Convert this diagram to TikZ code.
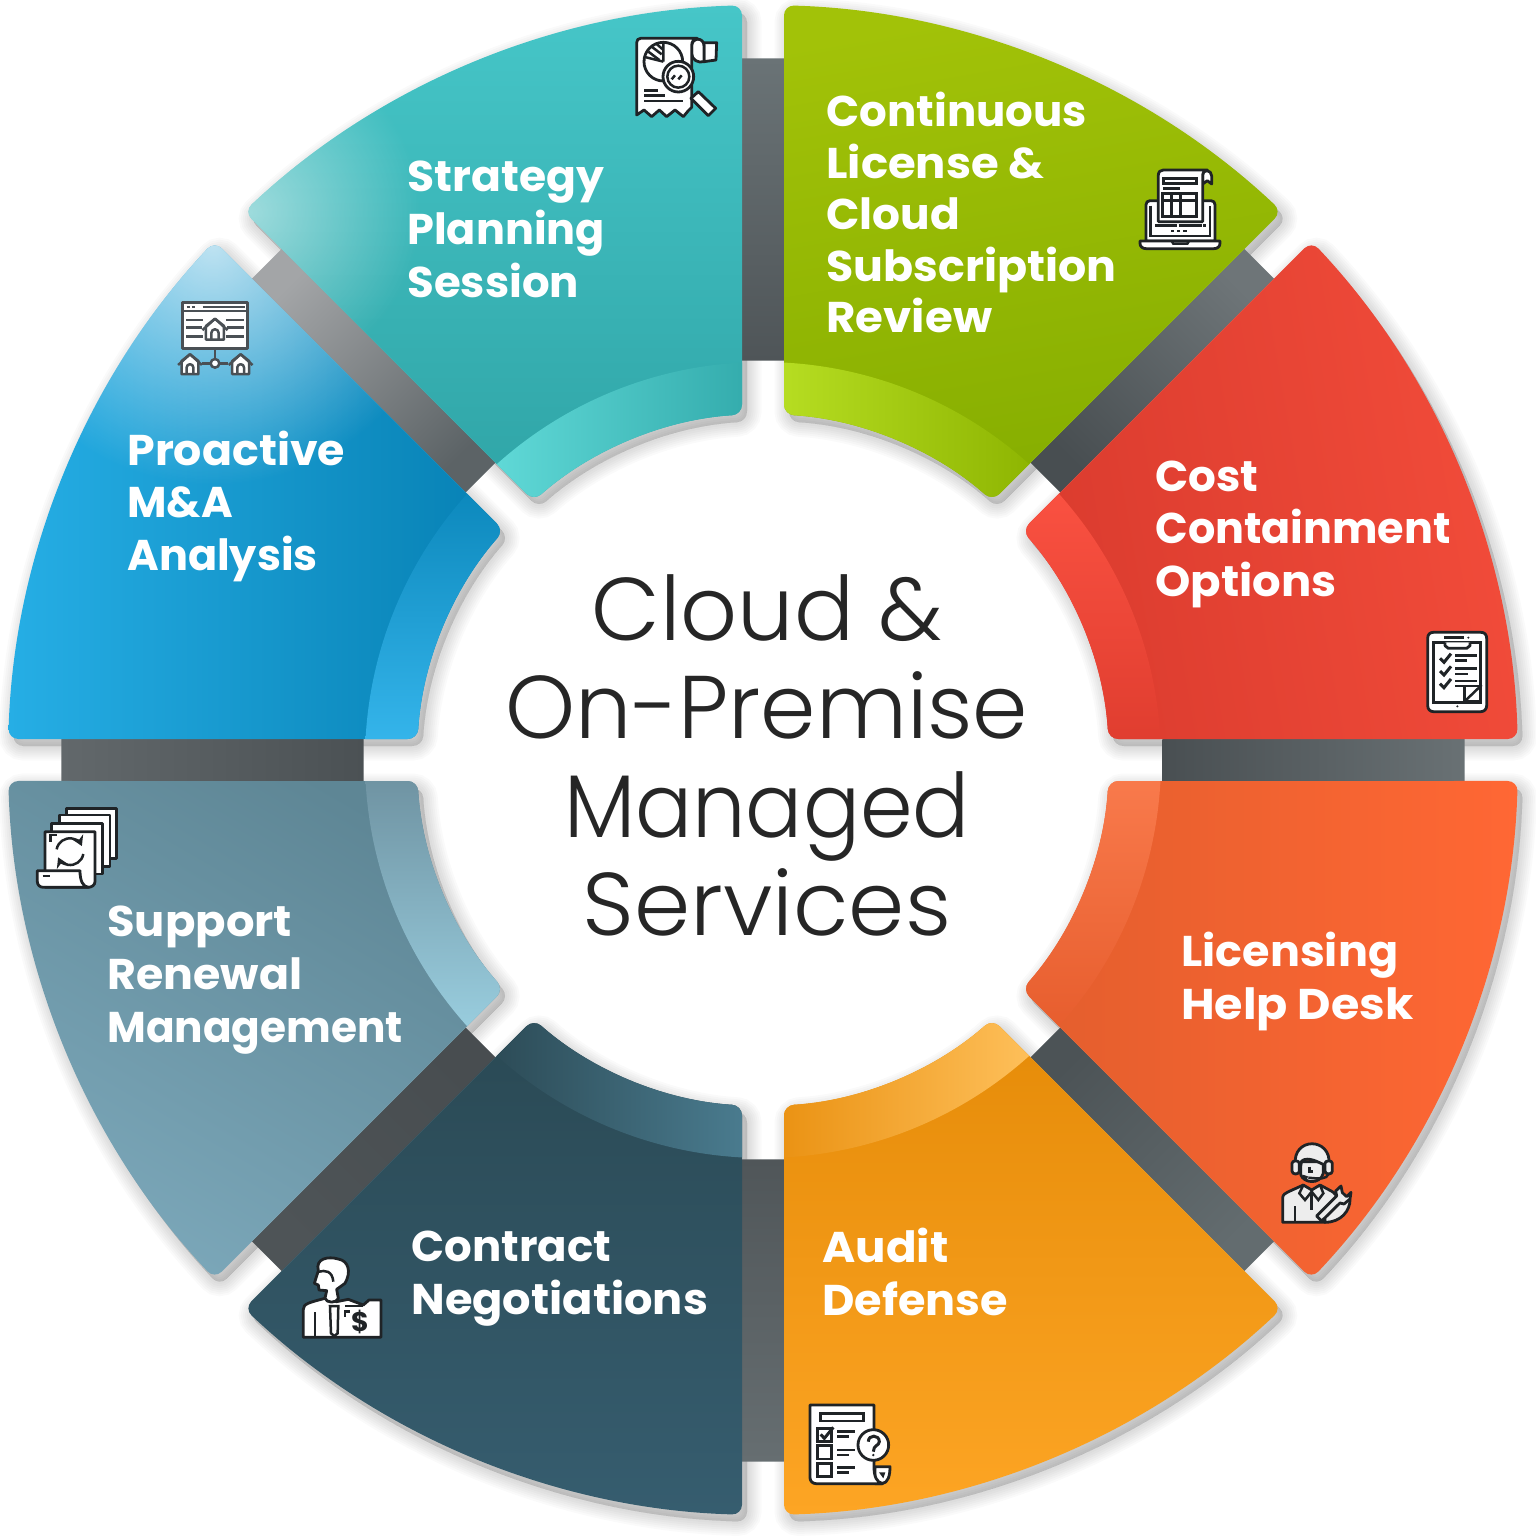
\documentclass[tikz,border=0pt]{standalone}
\usepackage{fontspec}
\newfontfamily\labelface{Poppins Bold}
\newfontfamily\titleface{Poppins Light}
\usetikzlibrary{fadings,arrows.meta}

\definecolor{icondark}{HTML}{1F2326}
\definecolor{icongrey}{HTML}{4A5055}

% Outline of one 45-degree ring piece, starting at angle #1 (measured on the flipped axes)
\newcommand{\wedgepath}[1]{({#1+1.594}:755) arc[start angle={#1+1.594},end angle={#1+43.406},radius=755] -- ({#1+41.52}:346) arc[start angle={#1+41.52},end angle={#1+3.48},radius=346] -- cycle}
\newcommand{\bandpath}[1]{({#1}:398) arc[start angle={#1},end angle={#1+45},radius=398] -- ({#1+45}:340) arc[start angle={#1+45},end angle={#1},radius=340] -- cycle}

% angle, main top colour, main bottom colour, main shading angle, band start, band end, band shading angle, extras
\newcommand{\ringpiece}[8]{%
  \definecolor{mainA}{HTML}{#2}\definecolor{mainB}{HTML}{#3}%
  \definecolor{bandA}{HTML}{#5}\definecolor{bandB}{HTML}{#6}%
  \shade[rounded corners=5pt,top color=mainA,bottom color=mainB,shading angle=#4] \wedgepath{#1};
  \begin{scope}
    \clip[rounded corners=5pt] \wedgepath{#1};
    #8
    \shade[top color=bandA,bottom color=bandB,shading angle=#7] \bandpath{#1};
  \end{scope}}

% Grey spoke behind the gap at angle #1: outer colour, inner colour
\newcommand{\spoke}[3]{%
  \definecolor{spokeA}{HTML}{#2}\definecolor{spokeB}{HTML}{#3}%
  \shade[top color=spokeA,bottom color=spokeB,shading angle={-(#1)-90}]
    ({#1+3}:400) -- ({#1+1.71}:702) -- ({#1-1.71}:702) -- ({#1-3}:400) -- cycle;}

% One label line, stretched sideways by #1
\newcommand{\wl}[2]{\hbox{\scalebox{#1}[1]{#2}}}

% Small house used by the web page icon: x, y, size
\newcommand{\homeicon}[3]{%
  \begin{scope}[shift={(#1,#2)},scale=#3]
    \path[igr] (-30,-8) -- (-30,38) -- (30,38) -- (30,-8) -- (0,-32) -- cycle;
    \draw[igr,fill=none] (-42,6) -- (0,-32) -- (42,6);
    \draw[igr,fill=none] (-12,38) -- (-12,15) arc[start angle=180,end angle=360,radius=12] -- (12,38);
  \end{scope}}

\tikzfading[name=tipglowteal,inner color=transparent!50,outer color=transparent!100]
\tikzfading[name=tipglowblue,inner color=transparent!28,outer color=transparent!100]

\tikzset{
  ringlabel/.style={anchor=base west,inner sep=0pt,text=white,
    font=\labelface\fontsize{21.5}{26.4}\selectfont},
  hubtitle/.style={anchor=base,inner sep=0pt,text=black!85,
    font=\titleface\fontsize{44.5}{49.25}\selectfont},
  ic/.style={draw=icondark,fill=white,line width=1.4pt,line join=round},
  il/.style={draw=icondark,line width=1.25pt,line cap=butt},
  igr/.style={draw=icongrey,fill=white,line width=1.25pt,line join=round},
  igl/.style={draw=icongrey,line width=1.2pt},
}

\begin{document}
\begin{tikzpicture}[x=1pt,y=1pt,xscale=.5,yscale=-.5]
\useasboundingbox (0,0) rectangle (1536,1536);

\begin{scope}[shift={(763,760)}]
  % soft shadow falling to the lower right
  \foreach \a in {-90,-45,0,45,90,135,180,225}{
    \foreach \w in {0.5,2.5,4.5,6.5,8.5,10.5,12.5,14.5}{
      \filldraw[black,opacity=.02,line width=\w pt,rounded corners=5pt,shift={(5,7)}] \wedgepath{\a};
    }
  }
  % spokes in the gaps
  \spoke{-90}{6A7376}{4F5558}
  \spoke{-45}{6E7578}{484E51}
  \spoke{0}{697174}{494F52}
  \spoke{45}{636C6F}{4C5356}
  \spoke{90}{666E71}{505659}
  \spoke{135}{4E5457}{484D50}
  \spoke{180}{62686B}{4B5154}
  \spoke{225}{A3A5A7}{5C6366}

  % ring pieces, clockwise from the top right
  \ringpiece{-90}{A2C208}{85AD00}{10}{B9E024}{8CB300}{90}{}
  \ringpiece{-45}{F24C3A}{DA3B2E}{-80}{FB5242}{DE3C2E}{0}{}
  \ringpiece{0}{FF6734}{E35E2D}{-90}{FA7C4E}{E65C2C}{0}{}
  \ringpiece{45}{E58B08}{FDA524}{0}{FFC25E}{E98F0E}{-90}{}
  \ringpiece{90}{2A4954}{365D6F}{0}{4C7F93}{2B4954}{-90}{}
  \ringpiece{135}{5E8695}{7BA7B9}{-30}{6C8F9E}{9BD0E1}{0}{}
  \ringpiece{180}{26AEE5}{0680B3}{90}{0A86BA}{38B8EE}{0}{\fill[white,path fading=tipglowblue] (-550,-515) circle (240);}
  \ringpiece{225}{46C6C8}{2FA4A6}{0}{31A9AA}{62DBD9}{-90}{\fill[white,path fading=tipglowteal] (-513,-548) circle (170);}
\end{scope}

% labels on the ring pieces
\node[ringlabel] (strategy) at (407,191.5) {\vtop{\wl{1.025}{Strategy}\wl{1.0}{Planning}\wl{1.01}{Session}}};
\node[ringlabel] (license) at (826,126.5) {\vtop{\baselineskip=25.75pt \wl{1.012}{Continuous}\wl{1.045}{License \&}\wl{1.02}{Cloud}\wl{1.03}{Subscription}\wl{1.05}{Review}}};
\node[ringlabel] (cost) at (1155,491) {\vtop{\wl{1.015}{Cost}\wl{.998}{Containment}\wl{1.045}{Options}}};
\node[ringlabel] (helpdesk) at (1181,966.5) {\vtop{\wl{1.035}{Licensing}\wl{1.068}{Help Desk}}};
\node[ringlabel] (audit) at (822,1262.5) {\vtop{\wl{1.05}{Audit}\wl{1.036}{Defense}}};
\node[ringlabel] (contract) at (411,1261.5) {\vtop{\wl{1.01}{Contract}\wl{1.04}{Negotiations}}};
\node[ringlabel] (support) at (107,936.5) {\vtop{\wl{1.043}{Support}\wl{1.03}{Renewal}\wl{.982}{Management}}};
\node[ringlabel] (proactive) at (127,465) {\vtop{\wl{1.03}{Proactive}\wl{1.0}{M\&A}\wl{1.0}{Analysis}}};

% centre title
\node[hubtitle] (title) at (767,640) {\begin{tabular}[t]{@{}c@{}}Cloud \&\\On-Premise\\\scalebox{.95}[1]{Managed}\\\scalebox{1.015}[1]{Services}\end{tabular}};

% report with pie chart and magnifier
\begin{scope}[shift={(620,20)},scale=.3333]
  \path[ic] (252,68) -- (290,68) -- (288,120) -- (252,125) -- cycle;
  \path[ic] (215,78) .. controls (215,52) and (252,50) .. (252,78) -- (252,125) .. controls (235,130) and (215,120) .. (215,100) -- cycle;
  \path[ic] (62,55) -- (232,55) .. controls (220,58) and (215,65) .. (215,78) -- (215,262) -- (205,272) -- (190,290) -- (165,270) -- (140,290) -- (118,270) -- (95,290) -- (72,270) -- (50,285) -- (50,68) .. controls (50,60) and (55,55) .. (62,55) -- cycle;
  \path[ic] (130,125) circle (58);
  \draw[il] (130,125) -- (130,67) (130,125) -- (78,112);
  \draw[il] (85,95) -- (118,120) (95,80) -- (125,103) (110,72) -- (128,88);
  \path[ic] (235,215) -- (287,265) -- (265,287) -- (213,235) -- cycle;
  \path[ic] (175,170) circle (46);
  \draw[il] (175,170) circle (33);
  \draw[il] (155,178) -- (165,166) (175,178) -- (185,166);
  \draw[il] (72,212) -- (115,212) (72,227) -- (135,227) (72,243) -- (190,243);
\end{scope}

% laptop with a sheet of figures
\begin{scope}[shift={(1130,160)},scale=.3333]
  \path[ic] (60,122) -- (243,122) .. controls (250,122) and (255,127) .. (255,134) -- (255,243) -- (48,243) -- (48,134) .. controls (48,127) and (53,122) .. (60,122) -- cycle;
  \draw[il] (62,137) -- (62,228) -- (240,228) -- (240,137);
  \path[ic] (30,243) -- (270,243) -- (270,250) .. controls (270,260) and (262,266) .. (252,266) -- (48,266) .. controls (38,266) and (30,260) .. (30,250) -- cycle;
  \draw[il] (125,243) -- (130,251) -- (172,251) -- (177,243);
  \path[ic] (218,45) .. controls (220,25) and (245,30) .. (245,48) -- (245,72) -- (232,62) -- (218,72) -- cycle;
  \path[ic] (85,45) .. controls (85,35) and (92,30) .. (100,30) -- (232,30) .. controls (222,32) and (218,38) .. (218,48) -- (218,185) -- (85,185) -- cycle;
  \draw[il] (100,55) rectangle (200,70);
  \draw[il] (100,85) -- (150,85);
  \draw[il] (97,100) rectangle (200,170);
  \draw[il] (125,100) -- (125,170) (152,100) -- (152,170) (97,122) -- (200,122);
  \draw[il] (75,197) -- (140,197) (146,197) -- (215,197) (220,197) -- (228,197);
  \draw[il,dash pattern=on 1.6pt off 1.5pt] (123,213) -- (178,213);
\end{scope}

% tablet with a checklist
\begin{scope}[shift={(1415,625)},scale=.3333]
  \path[ic] (38,40) .. controls (38,28) and (45,22) .. (55,22) -- (198,22) .. controls (208,22) and (215,28) .. (215,40) -- (215,242) .. controls (215,252) and (208,260) .. (198,260) -- (55,260) .. controls (45,260) and (38,252) .. (38,242) -- cycle;
  \draw[il] (55,52) rectangle (197,232);
  \path[ic] (90,52) -- (90,62) -- (100,70) -- (155,70) -- (165,62) -- (165,52);
  \draw[il] (88,38) -- (148,38);
  \fill[icondark] (160,38) circle (3.5) (127,244) circle (3.5);
  \foreach \y in {100,138,176}{
    \draw[il,line width=1.5pt] (75,\y) -- (87,{\y+12}) -- (108,{\y-14});
  }
  \draw[il] (120,92) -- (185,92) (120,107) -- (155,107) (120,130) -- (185,130) (120,147) -- (160,147) (120,168) -- (185,168) (120,183) -- (155,183);
  \path[ic] (148,183) rectangle (195,230);
  \draw[il] (150,228) -- (200,180);
\end{scope}

% support agent with headset and wrench
\begin{scope}[shift={(1270,1135)},scale=.3333]
  \path[ic,fill=black!7] (38,262) -- (38,188) .. controls (38,178) and (48,174) .. (60,168) -- (100,150) -- (125,165) -- (150,150) -- (178,165) .. controls (200,175) and (205,190) .. (205,205) -- (165,262) -- cycle;
  \draw[il] (100,150) -- (88,175) -- (105,195) -- (125,170) -- (145,195) -- (160,175) -- (150,150);
  \draw[il] (125,170) -- (125,225) (75,262) -- (75,212);
  \path[ic,fill=black!7] (165,262) .. controls (215,262) and (240,225) .. (240,195) -- (205,200) -- (165,225) -- cycle;
  \path[ic,fill=black!7] (92,80) -- (92,118) .. controls (100,145) and (150,150) .. (160,115) -- (160,80) -- cycle;
  \path[ic,fill=black!7] (76,90) .. controls (66,5) and (186,5) .. (177,90) -- (160,88) .. controls (150,85) and (115,62) .. (95,78) -- (92,92) -- cycle;
  \path[ic,fill=black!7] (66,85) .. controls (66,75) and (88,75) .. (88,85) -- (88,108) .. controls (88,120) and (66,120) .. (66,108) -- cycle;
  \path[ic,fill=black!7] (165,85) .. controls (165,75) and (187,75) .. (187,85) -- (187,108) .. controls (187,120) and (165,120) .. (165,108) -- cycle;
  \draw[il] (118,95) -- (118,110) -- (128,110);
  \draw[il] (175,118) .. controls (170,132) and (150,132) .. (115,128);
  \draw[il,line width=2pt] (98,125) -- (112,130);
  \path[ic,fill=black!7] (140,243) -- (200,183) -- (197,168) -- (213,153) -- (217,173) -- (230,185) -- (243,172) -- (240,192) -- (222,207) -- (210,204) -- (155,258) -- cycle;
\end{scope}

% audit form with question mark
\begin{scope}[shift={(800,1395)},scale=.3333]
  \path[ic] (225,215) -- (270,215) .. controls (270,240) and (265,265) .. (245,266) -- (225,266) -- cycle;
  \path[ic] (30,30) -- (222,30) -- (222,215) .. controls (222,245) and (230,262) .. (248,266) -- (48,266) .. controls (38,266) and (30,258) .. (30,248) -- cycle;
  \draw[il] (62,55) rectangle (190,78);
  \draw[il] (52,100) rectangle (95,140) (52,152) rectangle (95,192) (52,205) rectangle (95,245);
  \draw[il,line width=1.5pt] (62,118) -- (73,130) -- (100,97);
  \draw[il] (112,110) -- (165,110) (112,125) -- (148,125) (112,165) -- (165,165) (112,180) -- (148,180) (112,218) -- (165,218) (112,232) -- (148,232);
  \path[ic] (220,150) circle (46);
  \draw[il,line width=1.5pt] (205,140) .. controls (205,118) and (238,118) .. (238,140) .. controls (238,152) and (220,150) .. (220,170);
  \fill[icondark] (220,180) circle (4);
  \fill[icondark] (237,232) -- (256,232) -- (250,250) -- cycle;
\end{scope}

% negotiator with a folder and dollar sign
\begin{scope}[shift={(295,1250)},scale=.3333]
  \path[ic] (25,262) -- (25,178) .. controls (25,162) and (40,158) .. (90,145) -- (125,155) -- (160,148) -- (205,165) -- (222,150) -- (258,150) -- (258,262) -- cycle;
  \path[ic] (70,62) -- (58,100) -- (70,105) -- (72,120) -- (95,122) -- (90,145) .. controls (95,160) and (125,160) .. (130,145) -- (125,118) -- (150,100) .. controls (170,65) and (160,32) .. (130,27) .. controls (100,18) and (60,25) .. (70,62) -- cycle;
  \draw[il] (72,65) .. controls (90,60) and (112,62) .. (115,95);
  \draw[il] (60,262) -- (60,185);
  \draw[il] (105,168) -- (130,168) -- (128,250) -- (118,258) -- (108,250) -- cycle;
  \draw[il] (150,168) -- (205,168);
  \draw[il] (150,200) -- (150,185) -- (165,185);
  \node[inner sep=0pt,text=icondark,font=\labelface\fontsize{13.5}{13.5}\selectfont] (dollar) at (195,215) {\$};
\end{scope}

% stack of sheets with renewal arrows
\begin{scope}[shift={(30,800)},scale=.3333]
  \path[ic] (110,25) rectangle (260,175);
  \path[ic] (88,45) rectangle (240,200);
  \path[ic] (65,70) rectangle (218,222);
  \path[ic] (45,95) -- (195,95) -- (195,245) .. controls (195,255) and (185,262) .. (175,262) -- (45,262) -- cycle;
  \path[ic] (22,212) -- (150,212) .. controls (150,245) and (160,260) .. (175,262) -- (40,262) .. controls (30,262) and (22,255) .. (22,245) -- cycle;
  \draw[il] (38,228) -- (60,228);
  \draw[il] (62,125) -- (62,105) -- (82,105);
  \draw[il,-{Stealth[length=5pt,width=6pt]}] (80,148) arc[start angle=190,end angle=335,radius=40];
  \draw[il,-{Stealth[length=5pt,width=6pt]}] (160,162) arc[start angle=10,end angle=155,radius=40];
\end{scope}

% web page with three linked houses
\begin{scope}[shift={(170,295)},scale=.3333]
  \path[igr] (38,22) rectangle (232,160);
  \draw[igl] (38,48) -- (232,48);
  \draw[igl,dash pattern=on 1.6pt off 1pt] (50,36) -- (80,36);
  \draw[igl] (98,36) -- (225,36);
  \draw[igl] (48,75) -- (100,75) (48,98) -- (95,98) (48,124) -- (100,124) (168,75) -- (222,75) (172,98) -- (222,98) (168,124) -- (222,124);
  \homeicon{135}{100}{.9}
  \draw[igl] (135,160) -- (135,192) (95,205) -- (175,205);
  \path[igr] (135,205) circle (13);
  \homeicon{60}{205}{.85}
  \homeicon{212}{205}{.85}
\end{scope}
\end{tikzpicture}
\end{document}
